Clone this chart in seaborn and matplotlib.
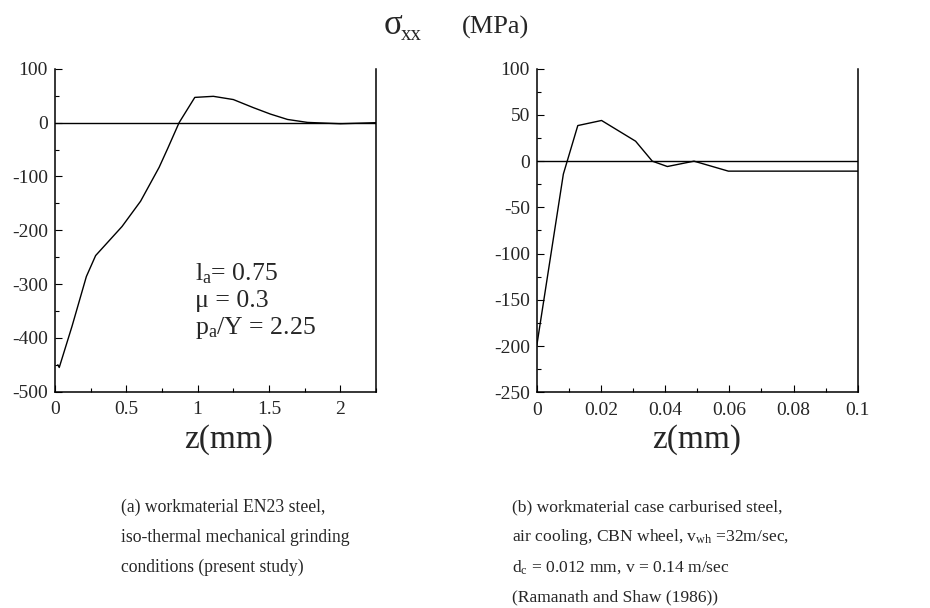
import matplotlib
matplotlib.use("Agg")
import matplotlib.pyplot as plt
from matplotlib.ticker import MultipleLocator
import seaborn as sns
import pandas as pd

# (a) EN23 steel, iso-thermal mechanical grinding: sigma_xx vs depth z (mm)
z_a = [0.02, 0.03, 0.12, 0.22, 0.285, 0.47, 0.60, 0.73, 0.79, 0.87, 0.98,
       1.11, 1.25, 1.39, 1.51, 1.63, 1.77, 2.0, 2.25]
s_a = [-450, -455, -378, -286, -247, -193, -146, -83, -48, 0, 47,
       49, 43, 28, 16, 6, 0.5, -2, 0]

# (b) case carburised steel (Ramanath and Shaw, 1986)
z_b = [0.0, 0.0083, 0.0128, 0.0202, 0.0308, 0.036, 0.0407, 0.049, 0.0597, 0.1]
s_b = [-200, -14, 38.5, 44, 21.6, 0, -5.8, 0, -10.8, -10.8]

xlims = [(0, 2.25), (0, 0.1)]
ylims = [(-500, 100), (-250, 100)]
xticks = [[0, 0.5, 1, 1.5, 2], [0, 0.02, 0.04, 0.06, 0.08, 0.1]]
xtick_labels = [["0", "0.5", "1", "1.5", "2"],
                ["0", "0.02", "0.04", "0.06", "0.08", "0.1"]]
xminor = [0.25, 0.01]
ymajor = [100, 50]
yminor = [50, 25]

title_symbol = "σ"
title_sub = "xx"
title_unit = "(MPa)"
xlabel = "z(mm)"
params_text = ["l$_{\\mathrm{a}}$= 0.75", "μ = 0.3", "p$_{\\mathrm{a}}$/Y = 2.25"]
caption_a = ["(a) workmaterial EN23 steel,",
             "iso-thermal mechanical grinding",
             "conditions (present study)"]
caption_b = ["(b) workmaterial case carburised steel,",
             "air cooling, CBN wheel, v$_{\\mathrm{wh}}$ =32m/sec,",
             "d$_{\\mathrm{c}}$ = 0.012 mm, v = 0.14 m/sec",
             "(Ramanath and Shaw (1986))"]

sns.set_theme(style="ticks")
plt.rcParams["font.family"] = ["Liberation Serif", "DejaVu Serif"]
plt.rcParams["mathtext.fontset"] = "custom"
plt.rcParams["mathtext.rm"] = "Liberation Serif"
plt.rcParams["mathtext.it"] = "Liberation Serif"
plt.rcParams["mathtext.bf"] = "Liberation Serif:bold"
plt.rcParams["axes.unicode_minus"] = False

W, H = 930, 608
fig = plt.figure(figsize=(W / 100, H / 100), dpi=100)
axes = [fig.add_axes([0.0591, 0.3558, 0.3452, 0.5309]),
        fig.add_axes([0.5771, 0.3548, 0.3452, 0.5322])]

datasets = [pd.DataFrame({"z": z_a, "s": s_a}), pd.DataFrame({"z": z_b, "s": s_b})]

for i, (ax, df) in enumerate(zip(axes, datasets)):
    ax.axhline(0, color="black", lw=1.0, zorder=1)
    sns.lineplot(data=df, x="z", y="s", ax=ax, color="black", lw=1.0,
                 sort=False, estimator=None, zorder=2)
    ax.set_xticks(xticks[i])
    ax.set_xticklabels(xtick_labels[i])
    ax.xaxis.set_minor_locator(MultipleLocator(xminor[i]))
    ax.yaxis.set_major_locator(MultipleLocator(ymajor[i]))
    ax.yaxis.set_minor_locator(MultipleLocator(yminor[i]))
    ax.set_xlim(*xlims[i])
    ax.set_ylim(*ylims[i])
    ax.tick_params(which="major", direction="in", length=5, width=0.8,
                   labelsize=14, color="black", pad=5)
    ax.tick_params(axis="x", which="major", pad=7)
    ax.tick_params(which="minor", direction="in", length=3, width=0.8,
                   color="black")
    ax.spines["top"].set_visible(False)
    for side in ("left", "right", "bottom"):
        ax.spines[side].set_color("black")
        ax.spines[side].set_linewidth(1.1)
    ax.set_xlabel("")
    ax.set_ylabel("")

# axis titles under each panel
fig.text(229 / W, 1 - 440 / H, xlabel, ha="center", va="center", fontsize=24)
fig.text(697 / W, 1 - 440 / H, xlabel, ha="center", va="center", fontsize=24)

# model parameters in panel (a)
for k, line in enumerate(params_text):
    fig.text(195 / W, 1 - (274 + 27 * k) / H, line, ha="left", va="center",
             fontsize=18.5)

# overall quantity label
fig.text(384 / W, 1 - 26 / H, title_symbol, ha="left", va="center", fontsize=25)
fig.text(401 / W, 1 - 36 / H, title_sub, ha="left", va="center", fontsize=15)
fig.text(462 / W, 1 - 27 / H, title_unit, ha="left", va="center", fontsize=19)

for k, line in enumerate(caption_a):
    fig.text(0.130, 1 - (507 + 30 * k) / H, line, ha="left", va="center",
             fontsize=12.7)
for k, line in enumerate(caption_b):
    fig.text(0.551, 1 - (507 + 30 * k) / H, line, ha="left", va="center",
             fontsize=12.6)

fig.savefig("out.png", dpi=100)
